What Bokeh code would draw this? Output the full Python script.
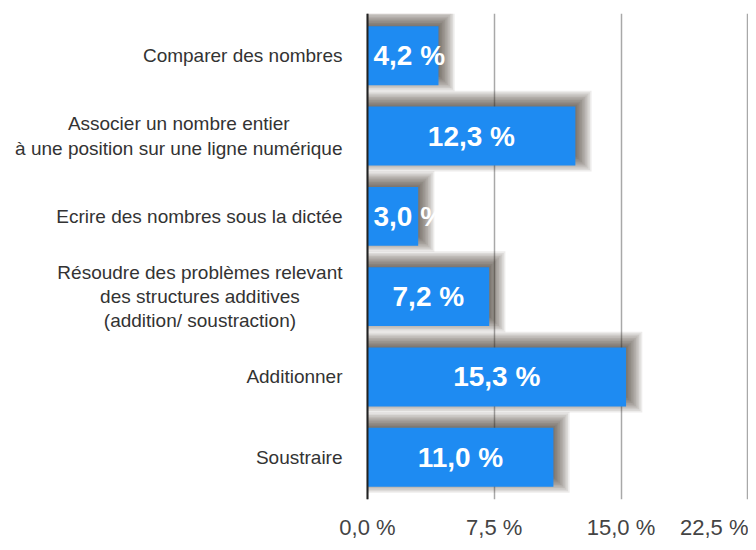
from bokeh.plotting import figure
from bokeh.models import FactorRange, Range1d, FixedTicker, ColumnDataSource, Span
from bokeh.transform import dodge
from bokeh.core.properties import value
from bokeh.embed import file_html
from bokeh.resources import INLINE

categories = [
    "Comparer des nombres",
    "Associer un nombre entier\nà une position sur une ligne numérique",
    "Ecrire des nombres sous la dictée",
    "Résoudre des problèmes relevant\ndes structures additives\n(addition/ soustraction)",
    "Additionner",
    "Soustraire",
]
values = [4.2, 12.3, 3.0, 7.2, 15.3, 11.0]
tick_values = [0, 7.5, 15, 22.5]
tick_labels = ["0,0 %", "7,5 %", "15,0 %", "22,5 %"]

FONT = "Liberation Sans"
BAR_COLOR = "#1e8bf2"

W, H = 748, 542
ZERO_PX, TOP, BOTTOM = 367, 13, 34
PX_PER_UNIT = 16.9
frame_h = H - TOP - BOTTOM
band_px = 81.8

factors = list(reversed(categories))
p = figure(
    width=W, height=H,
    y_range=FactorRange(factors=factors,
                        range_padding=(frame_h / band_px - 6) / 6),
    x_range=Range1d(-ZERO_PX / PX_PER_UNIT, (W - ZERO_PX) / PX_PER_UNIT),
    output_backend="svg", toolbar_location=None,
    min_border_left=0, min_border_right=0, min_border_top=TOP, min_border_bottom=BOTTOM,
)
p.outline_line_color = None
p.background_fill_color = "white"
p.border_fill_color = "white"

px_x = 1 / PX_PER_UNIT
px_y = 1 / band_px
bar_h = 0.733
src = ColumnDataSource(dict(cat=categories, val=values))

# grid + zero line
p.ygrid.grid_line_color = None
p.xgrid.ticker = FixedTicker(ticks=tick_values)
p.xgrid.grid_line_color = "#a8a8a8"
p.xgrid.grid_line_width = 1.5

# soft drop shadow, built from layered translucent bars
n_layers = 16
step = 1.6
for k in range(n_layers):
    e = (k - n_layers / 2) * step
    ssrc = ColumnDataSource(dict(cat=categories,
                                 right=[v + (5 + e) * px_x for v in values]))
    p.hbar(
        y=dodge("cat", 5 * px_y, range=p.y_range), left=0, right="right",
        height=bar_h + 2 * e * px_y, source=ssrc,
        fill_color="#2e2218", fill_alpha=0.085, line_color=None,
    )

p.hbar(y="cat", left=0, right="val", height=bar_h, source=src,
       fill_color=BAR_COLOR, line_color=None)

p.add_layout(Span(location=0, dimension="height", line_color="#222222", line_width=2))

# value labels
small = [v < 5 for v in values]
label_text = [f"{v:.1f}".replace(".", ",") + " %" for v in values]
big_src = ColumnDataSource(dict(
    cat=[c for c, s in zip(categories, small) if not s],
    x=[v / 2 for v, s in zip(values, small) if not s],
    t=[t for t, s in zip(label_text, small) if not s]))
small_src = ColumnDataSource(dict(
    cat=[c for c, s in zip(categories, small) if s],
    x=[0 for s in small if s],
    t=[t for t, s in zip(label_text, small) if s]))
p.text(x="x", y="cat", text="t", source=big_src, text_align="center",
       text_baseline="middle", text_color="white", text_font=value(FONT),
       text_font_size="28px", text_font_style="bold")
p.text(x="x", y="cat", text="t", source=small_src, text_align="left",
       text_baseline="middle", text_color="white", text_font=value(FONT),
       text_font_size="28px", text_font_style="bold", x_offset=6)

# category labels: centred multi-line blocks, right-anchored left of the zero line
cat_src = ColumnDataSource(dict(cat=categories, x=[0] * len(categories)))
p.text(x="x", y="cat", text="cat", source=cat_src, x_offset=-25,
       anchor="center_right", text_align="center", text_baseline="middle",
       text_font=value(FONT), text_font_size="19px", text_color="#333333",
       text_line_height=1.15)

# axes
p.yaxis.visible = False
p.xaxis.ticker = FixedTicker(ticks=tick_values)
p.xaxis.major_label_overrides = {t: l for t, l in zip(tick_values, tick_labels)}
p.xaxis.major_label_text_font = FONT
p.xaxis.major_label_text_font_size = "22px"
p.xaxis.major_label_text_color = "#444444"
p.xaxis.axis_line_color = None
p.xaxis.major_tick_line_color = None
p.xaxis.minor_tick_line_color = None
p.xaxis.major_label_standoff = 9

open("out.html", "w").write(file_html(p, INLINE))
